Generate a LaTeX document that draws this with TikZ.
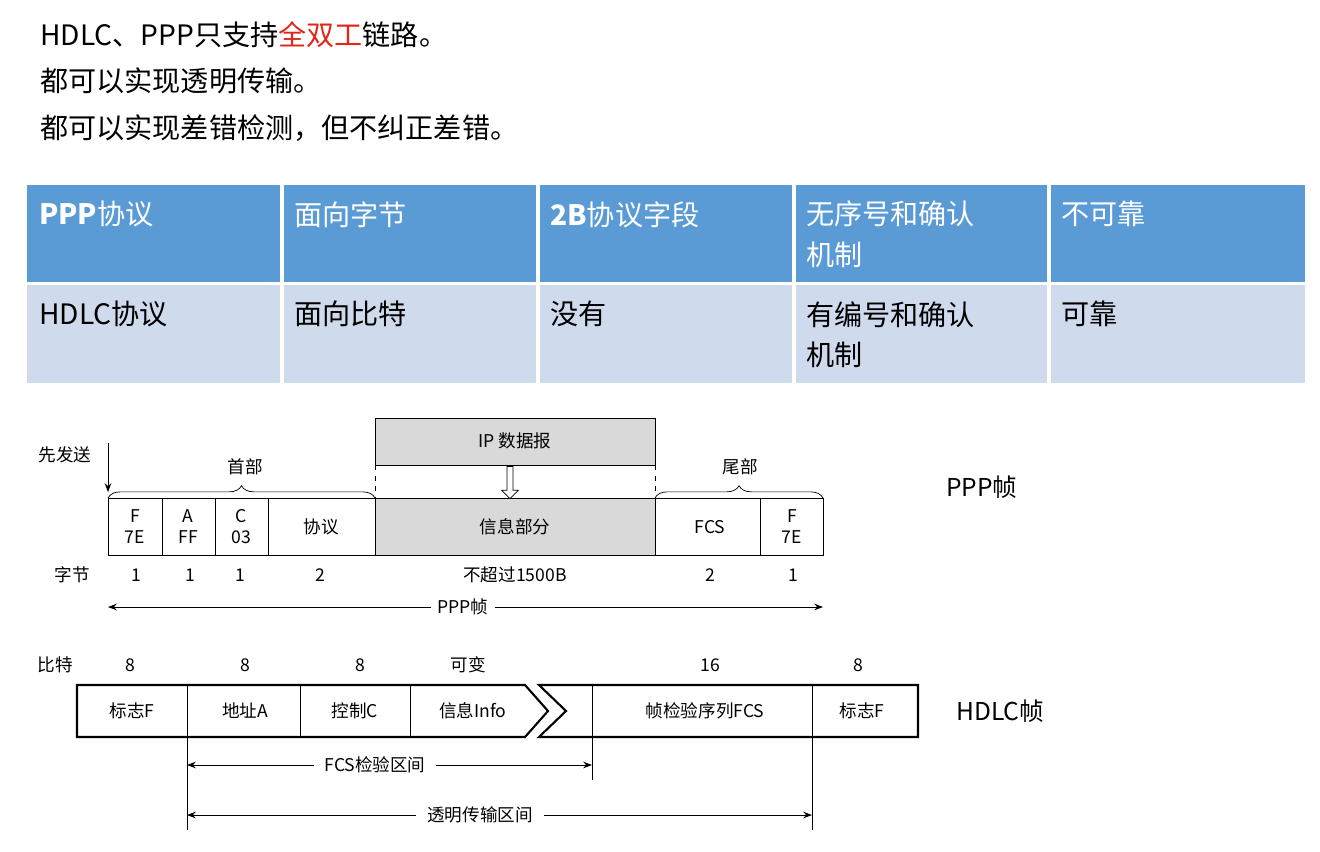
\documentclass[tikz,border=0pt]{standalone}
\usepackage{fontspec}
\setmainfont{Noto Sans CJK SC}
\usetikzlibrary{arrows.meta,decorations.pathreplacing,shapes.arrows}
\definecolor{hdrblue}{HTML}{5B9BD5}
\definecolor{rowblue}{HTML}{CFDAEC}
\definecolor{hotred}{HTML}{E0261B}
\definecolor{fillgray}{HTML}{D9D9D9}
\begin{document}
\begin{tikzpicture}[x=0.2mm,y=-0.2mm,
  line/.style={anchor=west,inner sep=0pt,font=\fontsize{16}{19}\selectfont},
  cell/.style={anchor=north west,align=left,font=\fontsize{16}{23}\selectfont},
  lab/.style={font=\fontsize{10}{12}\selectfont},
  fr/.style={draw,line width=0.5pt},
  tip/.style={-{Stealth[length=5pt]},line width=0.5pt},
  side/.style={anchor=west,font=\fontsize{14}{16}\selectfont}]
\useasboundingbox (0,0) rectangle (1320,851);
% header lines
\node[line] (l1) at (40,35) {HDLC、PPP只支持\textcolor{hotred}{全双工}链路。};
\node[line] (l2) at (40,81) {都可以实现透明传输。};
\node[line] (l3) at (40,128) {都可以实现差错检测，但不纠正差错。};
% table
\fill[hdrblue] (27,185) rectangle (1305,282);
\fill[rowblue] (27,285) rectangle (1305,383);
\foreach \x in {282,538,794,1049} \draw[white,line width=2pt] (\x,185) -- (\x,383);
\foreach \x/\t [count=\i] in {27/{\textbf{PPP}协议},282/面向字节,538/{\textbf{2B}协议字段},794/{无序号和确认\\机制},1049/不可靠}
  \node[cell,text=white] (h\i) at (\x+6,195) {\t};
\foreach \x/\t [count=\i] in {27/HDLC协议,282/面向比特,538/没有,794/{有编号和确认\\机制},1049/可靠}
  \node[cell] (r\i) at (\x+6,295) {\t};
% PPP frame
\draw[fr,fill=fillgray] (375,418) rectangle (655,465);
\node[lab] (ip) at (515,441) {IP 数据报};
\draw[fr,fill=fillgray] (375,498) rectangle (655,555);
\draw[fr] (108,498) rectangle (823,555);
\foreach \x in {162,215,268,760} \draw[fr] (\x,498) -- (\x,555);
\draw[dashed] (375,465) -- (375,498) (655,465) -- (655,498);
\node[draw,single arrow,shape border rotate=270,minimum height=32pt*0.2/0.35,
  single arrow head extend=3pt,minimum width=5pt,inner sep=1.5pt,fill=white] (down) at (510,481) {};
\foreach \x/\t [count=\i] in {135/{F\\7E},188/{A\\FF},241/{C\\03},321/协议,515/信息部分,710/FCS,792/{F\\7E}}
  \node[lab,align=center] (p\i) at (\x,527) {\t};
\draw[decorate,decoration={brace,amplitude=7pt}] (108,498) -- (375,498);
\draw[decorate,decoration={brace,amplitude=7pt}] (655,498) -- (823,498);
\node[lab] (head) at (245,467) {首部};
\node[lab] (tail) at (740,467) {尾部};
\node[lab] (first) at (65,455) {先发送};
\coordinate (ftop) at (108,443);
\coordinate (fbot) at (108,492);
\draw[tip] (ftop) -- (fbot);
\foreach \x/\t [count=\i] in {72/字节,136/1,190/1,240/1,320/2,515/不超过1500B,710/2,793/1}
  \node[lab] (b\i) at (\x,575) {\t};
\node[lab] (pppf) at (463,607) {PPP帧};
\coordinate (pl) at (108,607); \coordinate (pr) at (823,607);
\draw[tip] (pppf) -- (pl);
\draw[tip] (pppf) -- (pr);
\node[side] (pppside) at (940,487) {PPP帧};
% HDLC frame
\draw[line width=1.2pt] (525,685) -- (77,685) -- (77,737) -- (525,737) -- (548,711) -- cycle;
\draw[line width=1.2pt] (539,685) -- (918,685) -- (918,737) -- (539,737) -- (566,711) -- cycle;
\foreach \x in {187,300,410,592,812} \draw[line width=0.5pt] (\x,685) -- (\x,737);
\foreach \x/\t [count=\i] in {55/比特,130/8,245/8,360/8,468/可变,710/16,858/8}
  \node[lab] (n\i) at (\x,665) {\t};
\foreach \x/\t [count=\i] in {132/标志F,245/地址A,355/控制C,473/信息Info,705/帧检验序列FCS,862/标志F}
  \node[lab] (c\i) at (\x,711) {\t};
\draw (187,737) -- (187,830) (592,737) -- (592,780) (812,737) -- (812,830);
\node[lab,inner sep=6pt] (fcsr) at (375,765) {FCS检验区间};
\coordinate (fl) at (187,765); \coordinate (fr2) at (592,765);
\draw[tip] (fcsr) -- (fl);
\draw[tip] (fcsr) -- (fr2);
\node[lab,inner sep=6pt] (trr) at (480,815) {透明传输区间};
\coordinate (tl) at (187,815); \coordinate (tr) at (812,815);
\draw[tip] (trr) -- (tl);
\draw[tip] (trr) -- (tr);
\node[side] (hdlcside) at (950,711) {HDLC帧};
\end{tikzpicture}
\end{document}
